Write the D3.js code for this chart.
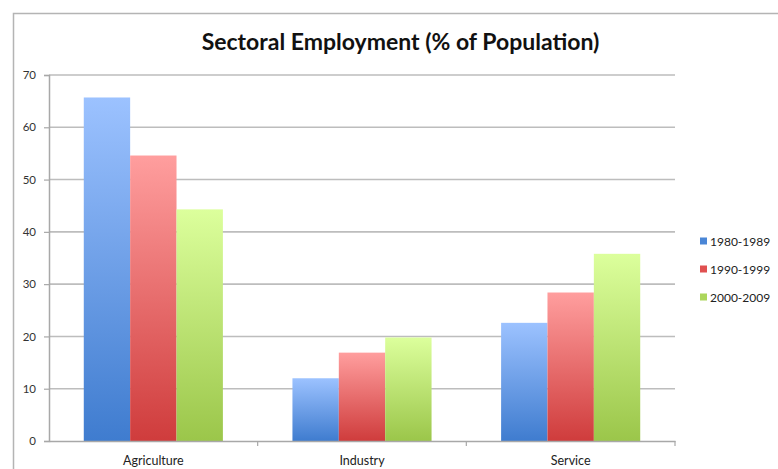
<!DOCTYPE html>
<html><head><meta charset="utf-8">
<script src="https://cdn.jsdelivr.net/npm/d3@7"></script>
<style>body{margin:0;background:#fff}svg{display:block}</style>
</head><body>
<script>
const categories = ["Agriculture", "Industry", "Service"];
const seriesNames = ["1980-1989", "1990-1999", "2000-2009"];
const s1980 = [65.7, 12.0, 22.6];
const s1990 = [54.6, 16.9, 28.4];
const s2000 = [44.3, 19.8, 35.8];
const yTicks = [0, 10, 20, 30, 40, 50, 60, 70];
const seriesValues = [s1980, s1990, s2000];

(function () {
const W = 778, H = 469;
const colors = [
  {top: "#9cc2ff", bot: "#3f7ccf", leg: "#4a86d6"},
  {top: "#ff9e9e", bot: "#cf3c3c", leg: "#e05050"},
  {top: "#dcff9c", bot: "#9bc64a", leg: "#acd65c"}
];
const font = "Lato, 'Open Sans', sans-serif";

const svg = d3.select("body").append("svg").attr("width", W).attr("height", H);
const defs = svg.append("defs");
colors.forEach((c, i) => {
  const g = defs.append("linearGradient").attr("id", "g" + i)
    .attr("x1", 0).attr("y1", 0).attr("x2", 0).attr("y2", 1);
  g.append("stop").attr("offset", "0%").attr("stop-color", c.top);
  g.append("stop").attr("offset", "100%").attr("stop-color", c.bot);
});

// outer frame
svg.append("path").attr("d", `M13.5,${H} V13.5 H${W}`).attr("fill", "none")
  .attr("stroke", "#b4b4b4").attr("stroke-width", 1.5);

const pL = 49, pR = 675, pT = 75, pB = 441;
const x = d3.scaleBand().domain(categories).range([pL, pR]).paddingInner(0).paddingOuter(0);
const inner = d3.scaleBand().domain(d3.range(3)).range([0, x.bandwidth()]).paddingInner(0).paddingOuter(0.75);
const y = d3.scaleLinear().domain([0, 70]).range([pB, pT]);

// gridlines
svg.append("g").selectAll("line").data(yTicks.filter(t => t > 0)).join("line")
  .attr("x1", pL).attr("x2", pR)
  .attr("y1", d => y(d)).attr("y2", d => y(d))
  .attr("stroke", "#bdbdbd").attr("stroke-width", 1.6);

// bars
const groups = svg.append("g").selectAll("g").data(categories).join("g")
  .attr("transform", d => `translate(${x(d)},0)`);
groups.selectAll("rect").data((d, ci) => seriesValues.map((s, si) => ({si, v: s[ci]}))).join("rect")
  .attr("x", d => inner(d.si)).attr("width", inner.bandwidth())
  .attr("y", d => y(d.v)).attr("height", d => y(0) - y(d.v))
  .attr("fill", d => `url(#g${d.si})`);

// y axis
const yAxis = svg.append("g").attr("transform", `translate(${pL},0)`)
  .call(d3.axisLeft(y).tickValues(yTicks).tickSize(5).tickPadding(8).tickFormat(d3.format("d")));
yAxis.select(".domain").attr("stroke", "#a8a8a8").attr("stroke-width", 1.5);
yAxis.selectAll(".tick line").attr("stroke", "#a8a8a8").attr("stroke-width", 1.2);
yAxis.selectAll("text").attr("font-family", font).attr("font-size", 11.5).attr("fill", "#333");

// x axis
const xAxis = svg.append("g").attr("transform", `translate(0,${pB})`)
  .call(d3.axisBottom(x).tickSize(0).tickPadding(15));
xAxis.select(".domain").attr("stroke", "#a8a8a8").attr("stroke-width", 1.5);
xAxis.selectAll("text").attr("font-family", font).attr("font-size", 12.5).attr("fill", "#222");
// boundary ticks
svg.append("g").selectAll("line").data(categories).join("line")
  .attr("x1", d => x(d) + x.bandwidth()).attr("x2", d => x(d) + x.bandwidth())
  .attr("y1", pB).attr("y2", pB + 5)
  .attr("stroke", "#a8a8a8").attr("stroke-width", 1.2);

// title
svg.append("text").attr("x", 400.5).attr("y", 50).attr("text-anchor", "middle")
  .attr("font-family", font).attr("font-weight", "bold")
  .attr("font-size", 23).attr("fill", "#111")
  .text("Sectoral Employment (% of Population)");

// legend
const leg = svg.append("g").selectAll("g").data(seriesNames).join("g")
  .attr("transform", (d, i) => `translate(700,${241.5 + i * 28})`);
leg.append("rect").attr("x", 0).attr("y", -4).attr("width", 7).attr("height", 7)
  .attr("fill", (d, i) => colors[i].leg);
leg.append("text").attr("x", 10).attr("y", 4.5)
  .attr("font-family", font).attr("font-size", 12).attr("fill", "#222")
  .text(d => d);
})();
</script>
</body></html>
